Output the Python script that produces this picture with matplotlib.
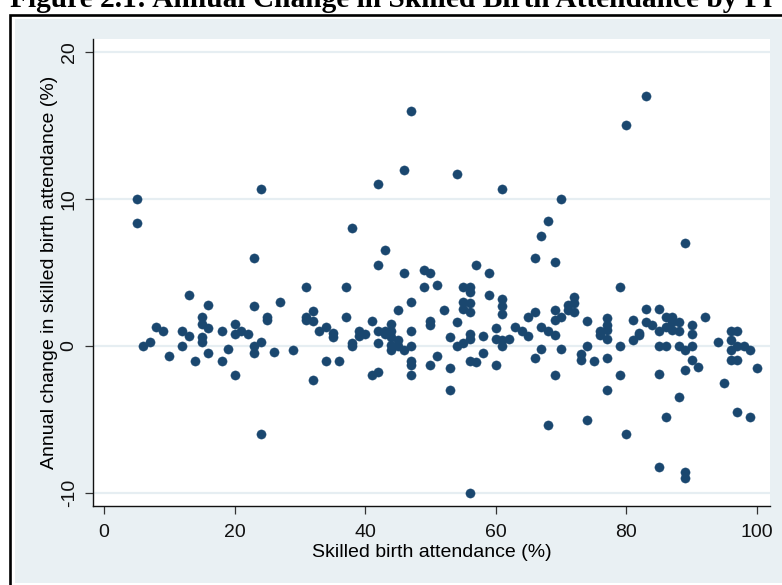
import matplotlib
matplotlib.use("Agg")
import matplotlib.pyplot as plt
from matplotlib.patches import Rectangle

plt.rcParams["axes.unicode_minus"] = False

# skilled birth attendance (%) and annual change (percentage points)
sba_low = [5, 5, 6, 7, 8, 9, 10, 12, 12, 13, 13, 14, 15, 15, 15, 15, 16, 16, 16,
           18, 18, 19, 20, 20, 20, 21, 22, 23, 23, 23, 23, 24, 24, 24, 25, 25]
chg_low = [10.0, 8.4, 0.0, 0.3, 1.3, 1.0, -0.7, 1.0, 0.0, 0.7, 3.5, -1.0, 2.0, 1.5, 0.6, 0.3, 1.2, 2.8, -0.5,
           1.0, -1.0, -0.2, 1.5, 0.8, -2.0, 1.0, 0.8, 6.0, 2.7, 0.0, -0.5, 0.3, 10.7, -6.0, 2.0, 1.8]

sba_mid = [26, 27, 29, 31, 31, 31, 32, 32, 32, 33, 34, 34, 35, 35, 36, 37, 37, 38, 38, 38,
           39, 39, 40, 41, 41, 42, 42, 42, 42, 42, 43, 43, 43, 44, 44, 44, 44, 44, 45, 45, 45,
           46, 46, 46, 47, 47, 47, 47, 47, 47, 47, 49, 50, 49, 50, 50, 50, 51, 51]
chg_mid = [-0.4, 3.0, -0.3, 4.0, 2.0, 1.8, 2.4, 1.7, -2.3, 1.0, 1.3, -1.0, 0.9, 0.6, -1.0, 4.0, 2.0, 0.2, 0.0, 8.0,
           1.0, 0.7, 0.8, 1.7, -2.0, 1.0, 0.2, -1.8, 5.5, 11.0, 6.5, 1.0, 0.8, 1.5, 1.0, 0.6, 0.1, -0.3, 2.45, 0.4, 0.0,
           5.0, -0.3, 12.0, 3.0, 1.0, 0.0, -1.0, -1.3, -2.0, 16.0, 5.2, 5.0, 4.0, 1.7, 1.4, -1.3, 4.15, -0.7]

sba_upper = [52, 53, 53, 53, 54, 54, 54, 55, 56, 56, 55, 56, 55, 56, 55, 56, 56, 56, 57, 56,
             57, 58, 58, 59, 59, 60, 60, 60, 61, 61, 61, 61, 61, 61, 62, 63, 64, 65, 65, 66,
             66, 66, 67, 67, 67, 68, 68, 68, 69, 69, 69, 69, 69, 70, 70, 70, 71, 71, 72, 72,
             72, 73, 73, 74, 74, 74, 75, 76, 76]
chg_upper = [2.45, 0.6, -1.5, -3.0, 1.6, 0.0, 11.7, 4.0, 4.0, 3.7, 3.0, 2.9, 2.5, 2.3, 0.2, 0.45, 0.85, -1.0, -1.1, -10.0,
             5.5, 0.7, -0.45, 5.0, 3.5, 1.2, 0.5, -1.3, 3.2, 2.75, 2.2, 0.4, 0.0, 10.7, 0.5, 1.3, 1.0, 0.7, 2.0, 2.3,
             6.0, -0.8, 1.3, -0.2, 7.5, 1.0, -5.4, 8.5, 5.7, 2.45, 1.8, 0.75, -2.0, 2.0, -0.2, 10.0, 2.8, 2.45, 3.35, 2.9,
             2.3, -0.55, -0.95, 1.7, 0.0, -5.0, -1.0, 1.0, 0.75]

sba_high = [77, 77, 77, 77, 77, 77, 79, 79, 79, 80, 80, 81, 81, 82, 82, 83, 83, 83, 84, 85,
            85, 85, 85, 85, 86, 86, 86, 86, 87, 87, 87, 88, 88, 88, 88, 89, 89, 89, 89, 89,
            90, 90, 90, 90, 91, 92, 94, 95, 96, 96, 96, 96, 97, 97, 97, 97, 98, 99, 99, 100]
chg_high = [1.9, 1.4, 1.1, 0.5, -0.8, -3.0, 4.0, 0.0, -2.0, 15.0, -6.0, 1.8, 0.4, 0.75, 0.9, 17.0, 2.5, 1.6, 1.4, 2.5,
            1.0, 0.0, -1.9, -8.2, 0.0, 2.0, 1.3, -4.8, 2.0, 1.6, 1.1, 1.65, 1.0, 0.0, -3.5, -0.3, -1.6, 7.0, -8.6, -9.0,
            1.4, 0.8, 0.0, -0.95, -1.4, 2.0, 0.3, -2.5, 1.0, 0.4, -0.3, -0.95, 1.0, 0.0, -0.95, -4.5, 0.0, -0.3, -4.8, -1.5]

sba = sba_low + sba_mid + sba_upper + sba_high
change = chg_low + chg_mid + chg_upper + chg_high

navy = "#1a476f"
region_bg = "#e9f0f3"
grid_col = "#e6eef2"

W, H = 782, 585
fig = plt.figure(figsize=(W / 100, H / 100), dpi=100, facecolor="white")

# graph region and frame
fig.add_artist(Rectangle((15 / W, 2 / H), 1, (583 - 19) / H, transform=fig.transFigure,
                         facecolor=region_bg, edgecolor="none", zorder=0))
fig.add_artist(Rectangle((9.5 / W, -0.1), 1.2, 0.1 + (585 - 14.5) / H, transform=fig.transFigure,
                         facecolor="none", edgecolor="black", linewidth=1.9, zorder=1))

fig.text(10 / W, 1 - 7 / H, "Figure 2.1: Annual Change in Skilled Birth Attendance by Pr",
         family="Liberation Serif", fontweight="bold", fontsize=21.2, va="baseline", ha="left")

ax = fig.add_axes([93 / W, 1 - 506 / H, (770 - 93) / W, (506 - 39) / H])
ax.set_facecolor("white")
ax.scatter(sba, change, s=44, color=navy, edgecolors=navy, linewidths=0.3, zorder=3)

ax.set_xlim(-1.68, 102.0)
ax.set_ylim(-10.88, 20.88)
ax.set_xticks([0, 20, 40, 60, 80, 100])
ax.set_yticks([-10, 0, 10, 20])
ax.yaxis.grid(True, color=grid_col, linewidth=1.6)
ax.set_axisbelow(True)

for side in ["top", "right"]:
    ax.spines[side].set_visible(False)
for side in ["left", "bottom"]:
    ax.spines[side].set_color("#111111")
    ax.spines[side].set_linewidth(1.0)

ax.tick_params(axis="both", direction="out", length=6, width=0.9, color="#333333",
               labelsize=14, labelcolor="#111111")
ax.tick_params(axis="x", pad=7)
ax.tick_params(axis="y", pad=5)
for lab in ax.get_yticklabels():
    lab.set_rotation(90)
    lab.set_va("center")
for lab in ax.get_xticklabels() + ax.get_yticklabels():
    lab.set_family("Liberation Sans")

ax.set_xlabel("Skilled birth attendance (%)", family="Liberation Sans", fontsize=14, labelpad=2)
ax.set_ylabel("Annual change in skilled birth attendance (%)", family="Liberation Sans",
              fontsize=14, labelpad=2)

fig.savefig("out.png", dpi=100, facecolor="white")
